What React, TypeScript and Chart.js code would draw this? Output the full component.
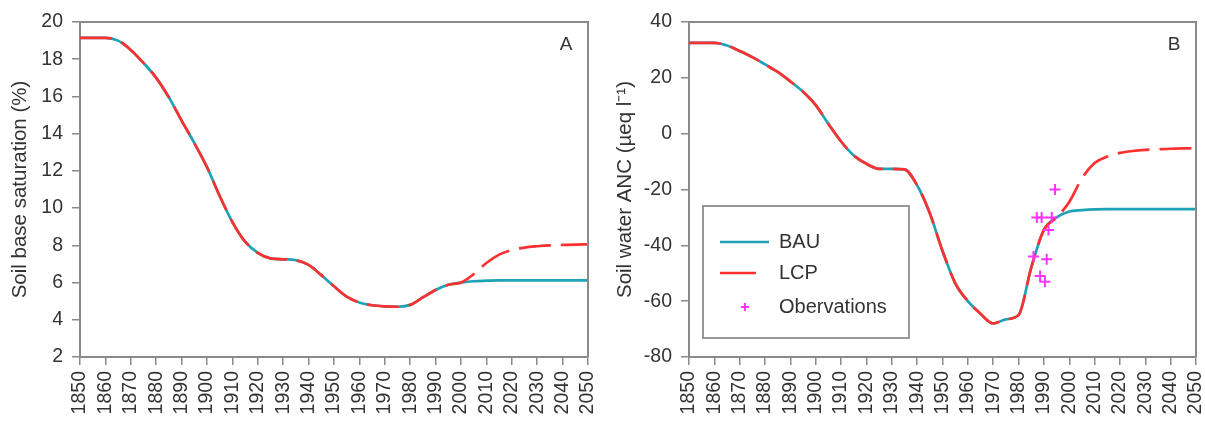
import React, { useEffect, useRef } from "react";
import { Chart, registerables } from "chart.js";

Chart.register(...registerables);

// ---------------- data ----------------
const years = [
  1850, 1855, 1860, 1865, 1870, 1875, 1880, 1885, 1890, 1895,
  1900, 1905, 1910, 1915, 1920, 1925, 1930, 1935, 1940, 1945,
  1950, 1955, 1960, 1965, 1970, 1975, 1980, 1985, 1990, 1995,
  2000, 2005, 2010, 2015, 2020, 2025, 2030, 2035, 2040, 2045, 2050,
];

// Panel A: soil base saturation (%)
const bauA = [
  19.15, 19.15, 19.15, 19.0, 18.5, 17.8, 17.0, 15.95, 14.7, 13.5,
  12.2, 10.65, 9.25, 8.2, 7.6, 7.3, 7.25, 7.2, 6.95, 6.4,
  5.8, 5.25, 4.93, 4.78, 4.72, 4.7, 4.8, 5.2, 5.6, 5.88,
  6.0, 6.07, 6.1, 6.12, 6.12, 6.12, 6.12, 6.12, 6.12, 6.12, 6.12,
];
const lcpA = [
  19.15, 19.15, 19.15, 19.0, 18.5, 17.8, 17.0, 15.95, 14.7, 13.5,
  12.2, 10.65, 9.25, 8.2, 7.6, 7.3, 7.25, 7.2, 6.95, 6.4,
  5.8, 5.25, 4.93, 4.78, 4.72, 4.7, 4.8, 5.2, 5.6, 5.88,
  6.0, 6.45, 7.05, 7.5, 7.75, 7.88, 7.95, 8.0, 8.02, 8.04, 8.05,
];

// Panel B: soil water ANC (µeq/l)
const bauB = [
  32.5, 32.5, 32.5, 31.6, 29.6, 27.4, 24.8, 22.1, 18.7, 15.0,
  10.2, 3.5, -2.8, -7.8, -10.8, -12.6, -12.6, -12.8, -18.5, -28.5,
  -42, -53.5, -60, -64.5, -68, -66.5, -65, -48, -34.5, -30,
  -27.9, -27.4, -27.1, -27.0, -27.0, -27.0, -27.0, -27.0, -27.0, -27.0, -27.0,
];
const lcpB = [
  32.5, 32.5, 32.5, 31.6, 29.6, 27.4, 24.8, 22.1, 18.7, 15.0,
  10.2, 3.5, -2.8, -7.8, -10.8, -12.6, -12.6, -12.8, -18.5, -28.5,
  -42, -53.5, -60, -64.5, -68, -66.5, -65, -48, -34.5, -30,
  -24.5, -16, -10.5, -8.2, -6.9, -6.2, -5.8, -5.6, -5.4, -5.3, -5.3,
];

const obsYears = [1994.4, 1987.2, 1989.1, 1993.1, 1991.8, 1985.9, 1991.1, 1988.5, 1990.4];
const obsValues = [-20, -30, -30, -30, -34.5, -44, -45, -51, -53];

const xTicks = [1850, 1860, 1870, 1880, 1890, 1900, 1910, 1920, 1930, 1940, 1950, 1960, 1970, 1980, 1990, 2000, 2010, 2020, 2030, 2040, 2050];
const yTicksA = [2, 4, 6, 8, 10, 12, 14, 16, 18, 20];
const yTicksB = [-80, -60, -40, -20, 0, 20, 40];

const seriesNames = ["BAU", "LCP", "Obervations"];

// ---------------- styles ----------------
const FONT = "'Liberation Sans', Arial, Helvetica, sans-serif";
const TEXT = "#333333";
const AXIS = "#8a8a8a";
const BLUE = "#1ea2b6";
const RED = "#ff3030";
const MAGENTA = "#ff33ff";
const DASH = [32, 10];

const pts = (xs: number[], ys: number[]) => xs.map((x, i) => ({ x, y: ys[i] }));

function makePlugin(letter: string, withLegend: boolean) {
  return {
    id: "decor" + letter,
    afterDraw(chart: any) {
      const { ctx, chartArea } = chart;
      const { left, right, top, bottom } = chartArea;
      ctx.save();
      // frame top & right
      ctx.strokeStyle = AXIS;
      ctx.lineWidth = 2;
      ctx.beginPath();
      ctx.moveTo(left, top);
      ctx.lineTo(right, top);
      ctx.lineTo(right, bottom);
      ctx.stroke();
      // panel letter
      ctx.fillStyle = TEXT;
      ctx.font = `19px ${FONT}`;
      ctx.textAlign = "center";
      ctx.textBaseline = "middle";
      ctx.fillText(letter, right - 22, top + 23);

      if (withLegend) {
        const bx = left + 14;
        const by = top + 184;
        const bw = 206;
        const bh = 132;
        ctx.strokeStyle = "#777777";
        ctx.lineWidth = 1.5;
        ctx.fillStyle = "#ffffff";
        ctx.fillRect(bx, by, bw, bh);
        ctx.strokeRect(bx, by, bw, bh);
        ctx.font = `20px ${FONT}`;
        ctx.textAlign = "left";
        ctx.textBaseline = "middle";
        const tx = bx + 76;
        // BAU
        ctx.strokeStyle = BLUE;
        ctx.lineWidth = 2.5;
        ctx.beginPath();
        ctx.moveTo(bx + 17, by + 36);
        ctx.lineTo(bx + 66, by + 36);
        ctx.stroke();
        ctx.fillStyle = TEXT;
        ctx.fillText(seriesNames[0], tx, by + 36);
        // LCP
        ctx.strokeStyle = RED;
        ctx.beginPath();
        ctx.moveTo(bx + 17, by + 67);
        ctx.lineTo(bx + 53, by + 67);
        ctx.stroke();
        ctx.fillText(seriesNames[1], tx, by + 67);
        // Observations
        ctx.strokeStyle = MAGENTA;
        ctx.lineWidth = 2;
        const cx = bx + 42;
        const cy = by + 101;
        ctx.beginPath();
        ctx.moveTo(cx - 4, cy);
        ctx.lineTo(cx + 4, cy);
        ctx.moveTo(cx, cy - 4);
        ctx.lineTo(cx, cy + 4);
        ctx.stroke();
        ctx.fillStyle = TEXT;
        ctx.fillText(seriesNames[2], tx, cy);
      }
      ctx.restore();
    },
  };
}

function buildConfig(
  bau: number[],
  lcp: number[],
  yMin: number,
  yMax: number,
  yTicks: number[],
  yTitle: string,
  yWidth: number,
  titlePad: number,
  padRight: number,
  letter: string,
  withObs: boolean
): any {
  const datasets: any[] = [];
  if (withObs) {
    datasets.push({
      type: "scatter",
      label: seriesNames[2],
      data: pts(obsYears, obsValues),
      pointStyle: "cross",
      radius: 5.5,
      borderColor: MAGENTA,
      backgroundColor: MAGENTA,
      borderWidth: 2,
      showLine: false,
      order: 0,
    });
  }
  datasets.push({
    type: "line",
    label: seriesNames[1],
    data: pts(years, lcp),
    borderColor: RED,
    borderWidth: 2.7,
    borderDash: DASH,
    pointRadius: 0,
    cubicInterpolationMode: "monotone",
    fill: false,
    order: 1,
  });
  datasets.push({
    type: "line",
    label: seriesNames[0],
    data: pts(years, bau),
    borderColor: BLUE,
    borderWidth: 2.7,
    pointRadius: 0,
    cubicInterpolationMode: "monotone",
    fill: false,
    order: 2,
  });

  return {
    type: "line",
    data: { datasets },
    options: {
      animation: false,
      responsive: false,
      devicePixelRatio: 1,
      layout: { padding: { left: 0, right: padRight, top: 22, bottom: 0 } },
      plugins: { legend: { display: false }, tooltip: { enabled: false } },
      scales: {
        x: {
          type: "linear",
          min: 1850,
          max: 2050,
          afterBuildTicks: (s: any) => {
            s.ticks = xTicks.map((v) => ({ value: v }));
          },
          afterFit: (s: any) => {
            s.height = 64;
            s.paddingLeft = 0;
            s.paddingRight = 0;
          },
          ticks: {
            autoSkip: false,
            maxRotation: 90,
            minRotation: 90,
            padding: 6,
            color: TEXT,
            font: { family: FONT, size: 19.5 },
            callback: (v: any) => String(v),
          },
          grid: {
            display: true,
            drawOnChartArea: false,
            drawTicks: true,
            tickLength: 8,
            color: AXIS,
            lineWidth: 1.5,
          },
          border: { display: true, color: AXIS, width: 2 },
        },
        y: {
          type: "linear",
          min: yMin,
          max: yMax,
          afterBuildTicks: (s: any) => {
            s.ticks = yTicks.map((v) => ({ value: v }));
          },
          afterFit: (s: any) => {
            s.width = yWidth;
            s.paddingTop = 0;
            s.paddingBottom = 0;
          },
          ticks: {
            padding: 9,
            color: TEXT,
            font: { family: FONT, size: 19.5 },
            callback: (v: any) => String(v),
          },
          grid: {
            display: true,
            drawOnChartArea: false,
            drawTicks: true,
            tickLength: 8,
            color: AXIS,
            lineWidth: 1.5,
          },
          border: { display: true, color: AXIS, width: 2 },
          title: {
            display: true,
            text: yTitle,
            color: TEXT,
            font: { family: FONT, size: 20.5 },
            padding: { top: titlePad, bottom: 0 },
          },
        },
      },
    },
    plugins: [makePlugin(letter, withObs)],
  };
}

export default function App() {
  const refA = useRef<HTMLCanvasElement>(null);
  const refB = useRef<HTMLCanvasElement>(null);

  useEffect(() => {
    const a = new Chart(
      refA.current as HTMLCanvasElement,
      buildConfig(bauA, lcpA, 2, 20, yTicksA, "Soil base saturation (%)", 80, 8, 12, "A", false)
    );
    const b = new Chart(
      refB.current as HTMLCanvasElement,
      buildConfig(bauB, lcpB, -80, 40, yTicksB, "Soil water ANC (\u00b5eq l\u207b\u00b9)", 89, 13, 9, "B", true)
    );
    return () => {
      a.destroy();
      b.destroy();
    };
  }, []);

  return (
    <div
      style={{
        position: "absolute",
        left: 0,
        top: 0,
        width: 1205,
        height: 421,
        background: "#ffffff",
        overflow: "hidden",
      }}
    >
      <canvas
        ref={refA}
        width={600}
        height={421}
        style={{ position: "absolute", left: 0, top: 0, width: 600, height: 421 }}
      />
      <canvas
        ref={refB}
        width={605}
        height={421}
        style={{ position: "absolute", left: 600, top: 0, width: 605, height: 421 }}
      />
    </div>
  );
}
